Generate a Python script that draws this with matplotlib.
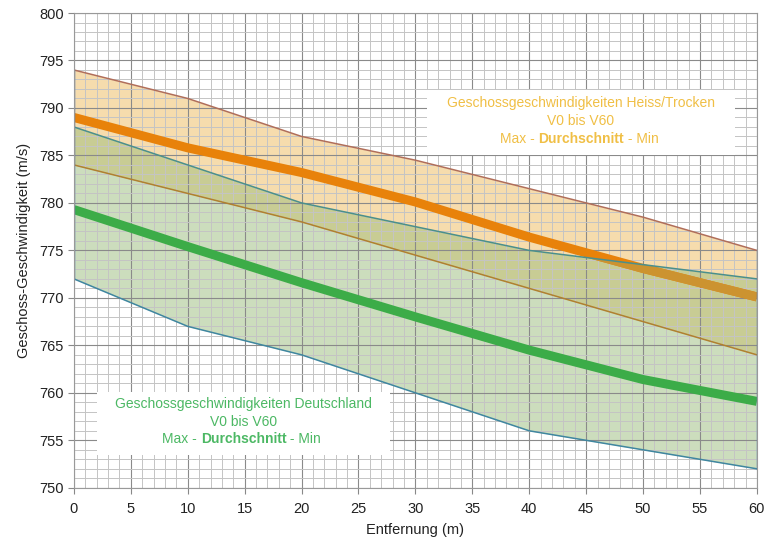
import matplotlib
matplotlib.use("Agg")
import matplotlib.pyplot as plt
from matplotlib.patches import Rectangle
from matplotlib.ticker import MultipleLocator

plt.rcParams['font.family'] = ['Liberation Sans', 'DejaVu Sans']

# Entfernung (m)
entfernung = [0, 10, 20, 30, 40, 50, 60]

# Heiss/Trocken
heiss_max = [794, 791, 787, 784.5, 781.5, 778.5, 775]
heiss_avg = [789, 785.8, 783.2, 780.1, 776.4, 773.1, 770.1]
heiss_min = [784, 781, 778, 774.5, 771, 767.5, 764]

# Deutschland
de_max = [788, 784, 780, 777.5, 775, 773.5, 772]
de_avg = [779.3, 775.4, 771.6, 768, 764.5, 761.4, 759.1]
de_min = [772, 767, 764, 760, 756, 754, 752]

fig = plt.figure(figsize=(7.7, 5.42), dpi=100)
ax = fig.add_axes([0.096, 0.100, 0.887, 0.876])

# Heiss band + lines
ax.fill_between(entfernung, heiss_min, heiss_max, color='#eeba5c', alpha=0.5,
                lw=0, zorder=1)
ax.plot(entfernung, heiss_max, color='#b06e5a', lw=1.1, zorder=1.6)
ax.plot(entfernung, heiss_min, color='#b08030', lw=1.1, zorder=1.6)
ax.plot(entfernung, heiss_avg, color='#e8820a', lw=6.5, zorder=1.6,
        solid_capstyle='butt')

# Deutschland band + lines
de_band = ax.fill_between(entfernung, de_min, de_max, color='#9bbd7d',
                          alpha=0.5, lw=0, zorder=1.3)
# orange line looks muted where the green band lies over it
muted, = ax.plot(entfernung, heiss_avg, color='#cc9330', lw=6.5, zorder=1.65,
                 solid_capstyle='butt')
muted.set_clip_path(de_band.get_paths()[0], ax.transData)

ax.plot(entfernung, de_max, color='#4a8f8c', lw=1.1, zorder=2)
ax.plot(entfernung, de_min, color='#3f86a0', lw=1.1, zorder=2)
ax.plot(entfernung, de_avg, color='#3cac48', lw=6.5, zorder=2,
        solid_capstyle='butt')

# band edges at both ends
for i in (0, -1):
    ax.plot([entfernung[i]] * 2, [de_min[i], max(de_max[i], heiss_max[i])],
            color='#4a7ec0', lw=1.0, zorder=2)

ax.set_xlim(0, 60)
ax.set_ylim(750, 800)
ax.xaxis.set_major_locator(MultipleLocator(5))
ax.yaxis.set_major_locator(MultipleLocator(5))
ax.xaxis.set_minor_locator(MultipleLocator(1))
ax.yaxis.set_minor_locator(MultipleLocator(1))
ax.set_axisbelow('line')
ax.grid(which='major', color='#8a8a8a', lw=0.8)
ax.grid(which='minor', color='#c4c4c4', lw=0.7)
ax.tick_params(which='major', length=4, color='#888888', labelsize=10.5,
               labelcolor='#222222')
ax.tick_params(axis='x', which='major', pad=6)
ax.tick_params(which='minor', length=0)
for s in ax.spines.values():
    s.set_color('#999999')
    s.set_linewidth(0.8)

ax.set_xlabel('Entfernung (m)', fontsize=10.5, color='#222222', labelpad=5)
ax.set_ylabel('Geschoss-Geschwindigkeit (m/s)', fontsize=10.5,
              color='#222222', labelpad=6)


def label_box(x0, y0, x1, y1, title, color):
    ax.add_patch(Rectangle((x0, y0), x1 - x0, y1 - y0, facecolor='white',
                           edgecolor='none', zorder=3))
    xc = (x0 + x1) / 2
    h = y1 - y0
    ax.text(xc, y1 - h * 0.20, title, ha='center', va='center', fontsize=10,
            color=color, zorder=4)
    ax.text(xc, y1 - h * 0.48, 'V0 bis V60', ha='center', va='center',
            fontsize=10, color=color, zorder=4)
    bold = ax.text(xc, y1 - h * 0.75, 'Durchschnitt', ha='center',
                   va='center', fontsize=10, color=color, fontweight='bold',
                   zorder=4)
    ax.annotate('Max - ', xy=(0, 0), xycoords=bold, ha='right', va='bottom',
                fontsize=10, color=color, zorder=4)
    ax.annotate(' - Min', xy=(1, 0), xycoords=bold, ha='left', va='bottom',
                fontsize=10, color=color, zorder=4)


label_box(31.0, 785.0, 58.1, 791.9,
          'Geschossgeschwindigkeiten Heiss/Trocken', '#f0bf45')
label_box(2.0, 753.5, 27.8, 760.1,
          'Geschossgeschwindigkeiten Deutschland', '#4cb864')

fig.savefig('out.png', dpi=100)
